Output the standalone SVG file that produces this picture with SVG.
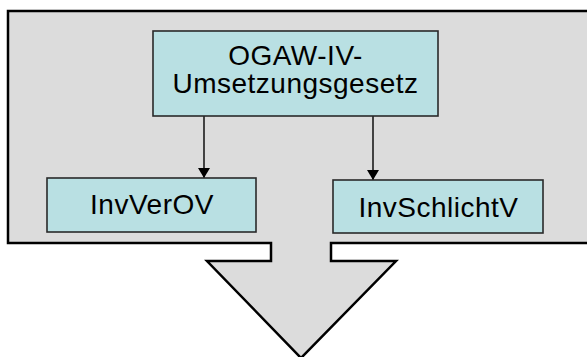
<svg xmlns="http://www.w3.org/2000/svg" width="587" height="357" viewBox="0 0 587 357">
  <defs>
    <marker id="tri" viewBox="0 0 10 12" refX="10" refY="6" markerWidth="10" markerHeight="12" markerUnits="userSpaceOnUse" orient="auto">
      <path d="M0,0 L10,6 L0,12 Z" fill="#000"/>
    </marker>
  </defs>
  <style>
    .panel { fill: #dcdcdc; stroke: #000; stroke-width: 2.5; stroke-linejoin: miter; }
    .box { fill: #b9e0e3; stroke: #2a2a2a; stroke-width: 1.6; }
    .lbl { font-family: "Liberation Sans", Arial, sans-serif; font-size: 28px; fill: #000; text-anchor: middle; letter-spacing: 0.5px; }
    .link { stroke: #000; stroke-width: 1.4; fill: none; marker-end: url(#tri); }
  </style>
  <rect width="587" height="357" fill="#fff"/>

  <!-- background panel merged with the downward block arrow; right side runs off the canvas -->
  <path class="panel" d="M590,11 H8 V243 H271 V261 H207 L301,358 L396,261 H331 V243 H590"/>

  <g id="connectors">
    <line class="link" x1="204" y1="116" x2="204" y2="178"/>
    <line class="link" x1="373" y1="116" x2="373" y2="180"/>
  </g>

  <g id="node-ogaw">
    <rect class="box" x="153" y="31" width="285" height="85"/>
    <text class="lbl" x="295.5" y="65">OGAW-IV-</text>
    <text class="lbl" x="295.5" y="93">Umsetzungsgesetz</text>
  </g>

  <g id="node-invverov">
    <rect class="box" x="47" y="178" width="209" height="54"/>
    <text class="lbl" x="152" y="214">InvVerOV</text>
  </g>

  <g id="node-invschlichtv">
    <rect class="box" x="333" y="180" width="210" height="53"/>
    <text class="lbl" x="438.5" y="217">InvSchlichtV</text>
  </g>
</svg>
